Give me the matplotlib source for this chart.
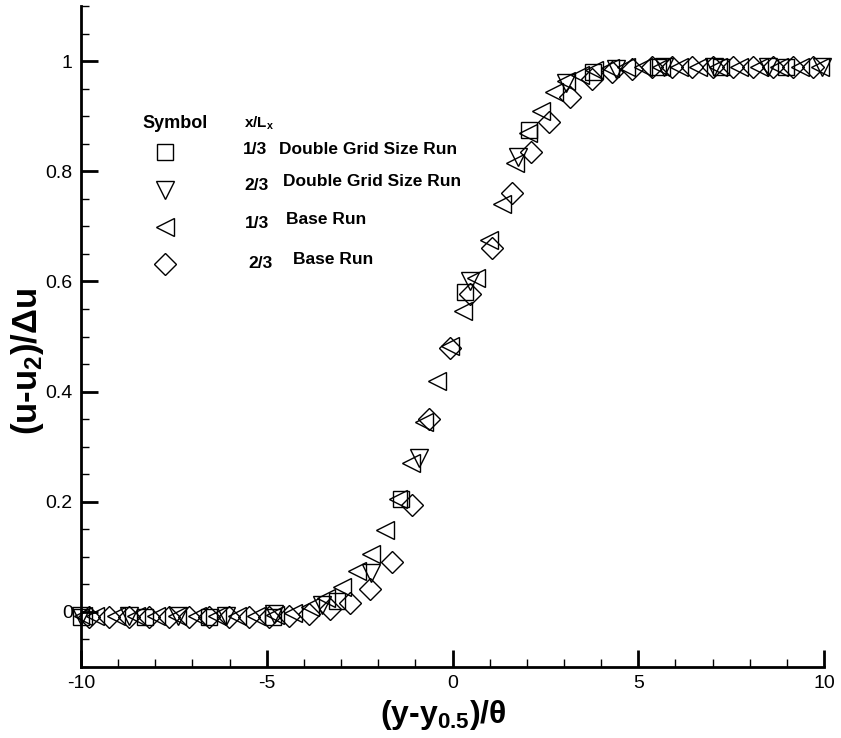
import matplotlib
matplotlib.use("Agg")
import matplotlib.pyplot as plt
from matplotlib.ticker import MultipleLocator

plt.rcParams['font.family'] = ['Liberation Sans', 'DejaVu Sans']
plt.rcParams['mathtext.fontset'] = 'custom'
plt.rcParams['mathtext.rm'] = 'Liberation Sans'
plt.rcParams['mathtext.bf'] = 'Liberation Sans:bold'
plt.rcParams['mathtext.it'] = 'Liberation Sans:italic'
plt.rcParams['axes.unicode_minus'] = False

# 1/3 Double Grid Size Run (squares)
sq_x = [-10.0, -8.28, -6.55, -4.83, -3.1, -1.38, 0.34, 2.07, 3.79, 5.52, 7.24, 8.97]
sq_y = [-0.01, -0.01, -0.01, -0.01, 0.02, 0.205, 0.58, 0.875, 0.98, 0.99, 0.99, 0.99]

# 2/3 Double Grid Size Run (down triangles)
dt_x = [-10.0, -8.7, -7.4, -6.1, -4.8, -3.5, -2.2, -0.89, 0.46, 1.75, 3.06, 4.4, 5.7, 7.05, 8.5, 9.95]
dt_y = [-0.008, -0.008, -0.008, -0.008, -0.004, 0.012, 0.07, 0.28, 0.6, 0.826, 0.96, 0.985, 0.99, 0.99, 0.99, 0.99]

# 1/3 Base Run (left triangles)
lt_x = [-9.95, -9.62, -9.07, -8.52, -7.97, -7.42, -6.87, -6.33, -5.8, -5.28, -4.78, -4.3,
        -3.84, -3.4, -2.98, -2.58, -2.2, -1.83, -1.48, -1.13, -0.78, -0.43, -0.08, 0.27,
        0.62, 0.97, 1.32, 1.67, 2.02, 2.37, 2.72, 3.06, 3.43, 3.82, 4.23, 4.67, 5.13, 5.6,
        6.1, 6.62, 7.15, 7.7, 8.25, 8.8, 9.35, 9.9]
lt_y = [-0.008, -0.008, -0.008, -0.008, -0.008, -0.008, -0.008, -0.008, -0.008, -0.008, -0.006, -0.002,
        0.009, 0.025, 0.045, 0.075, 0.105, 0.148, 0.205, 0.27, 0.345, 0.42, 0.483, 0.547,
        0.606, 0.675, 0.74, 0.815, 0.87, 0.91, 0.943, 0.963, 0.975, 0.983, 0.988, 0.99, 0.99, 0.99,
        0.99, 0.99, 0.99, 0.99, 0.99, 0.99, 0.99, 0.99]

# 2/3 Base Run (diamonds)
dm_x = [-9.79, -9.25, -8.71, -8.17, -7.63, -7.09, -6.55, -6.01, -5.47, -4.93, -4.39, -3.85,
        -3.31, -2.77, -2.23, -1.64, -1.1, -0.62, -0.08, 0.46, 1.05, 1.59, 2.12, 2.6,
        3.15, 3.76, 4.3, 4.84, 5.38, 5.92, 6.46, 7.0, 7.54, 8.08, 8.62, 9.16, 9.7]
dm_y = [-0.01, -0.01, -0.01, -0.01, -0.01, -0.01, -0.01, -0.01, -0.01, -0.01, -0.007, -0.003,
        0.005, 0.016, 0.042, 0.09, 0.195, 0.35, 0.48, 0.577, 0.66, 0.76, 0.835, 0.89,
        0.935, 0.967, 0.98, 0.985, 0.99, 0.99, 0.99, 0.99, 0.99, 0.99, 0.99, 0.99, 0.99]

legend_sym = ['s', 'v', '<', 'D']
legend_frac = ['1/3', '2/3', '1/3', '2/3']
legend_run = ['Double Grid Size Run', 'Double Grid Size Run', 'Base Run', 'Base Run']

W, H = 841, 738
fig = plt.figure(figsize=(W / 100, H / 100), dpi=100)
ax = fig.add_axes([81/W, 1 - 667/H, (824 - 81)/W, (667 - 6)/H])

mk = dict(linestyle='none', markerfacecolor='none', markeredgecolor='black', markeredgewidth=1.0)
ms = {'s': 11.5, 'v': 13, '<': 13, 'D': 11.7}
ax.plot(sq_x, sq_y, marker='s', markersize=ms['s'], **mk, clip_on=False)
ax.plot(dt_x, dt_y, marker='v', markersize=ms['v'], **mk, clip_on=False)
ax.plot(lt_x, lt_y, marker='<', markersize=ms['<'], **mk, clip_on=False)
ax.plot(dm_x, dm_y, marker='D', markersize=ms['D'], **mk, clip_on=False)

ax.set_xlim(-10, 10)
ax.set_ylim(-0.1, 1.1)
for s in ['top', 'right']:
    ax.spines[s].set_visible(False)
for s in ['left', 'bottom']:
    ax.spines[s].set_linewidth(2.0)
ax.xaxis.set_major_locator(MultipleLocator(5))
ax.xaxis.set_minor_locator(MultipleLocator(1))
ax.yaxis.set_minor_locator(MultipleLocator(0.05))
ax.set_yticks([0, 0.2, 0.4, 0.6, 0.8, 1.0])
ax.set_yticklabels(['0', '0.2', '0.4', '0.6', '0.8', '1'])
ax.tick_params(which='major', direction='in', length=12, width=2, labelsize=14, pad=6)
ax.tick_params(which='minor', direction='in', length=6, width=1)
ax.tick_params(axis='x', pad=6)

ax.set_xlabel('(y-y$_{\\mathbf{0.5}}$)/θ', fontsize=23, fontweight='bold')
ax.xaxis.set_label_coords((443 - 81) / 743, -(698 - 667) / 661)
ax.set_ylabel('(u-u$_{\\mathbf{2}}$)/Δu', fontsize=25, fontweight='bold')
ax.yaxis.set_label_coords(-(81 - 46) / 743, (667 - 361) / 661)

# legend
fig.text(175/W, 1 - 123/H, 'Symbol', fontsize=13, fontweight='bold', ha='center', va='center')
fig.text(244/W, 1 - 123/H, 'x/L$_{\\mathbf{x}}$', fontsize=11, fontweight='bold', ha='left', va='center')
mark_y = [152, 190, 227, 264]
frac_x = [243, 244, 245, 248]
frac_y = [149, 186, 224, 264]
run_x = [279, 283, 286, 293]
run_y = [149, 181, 220, 260]
for i in range(4):
    ax.plot([165/W], [1 - mark_y[i]/H], marker=legend_sym[i], markersize=ms[legend_sym[i]],
            transform=fig.transFigure, **mk, clip_on=False)
    fig.text(frac_x[i]/W, 1 - frac_y[i]/H, legend_frac[i], fontsize=12.5, fontweight='bold', ha='left', va='center')
    fig.text(run_x[i]/W, 1 - run_y[i]/H, legend_run[i], fontsize=12.5, fontweight='bold', ha='left', va='center')

fig.savefig('out.png', dpi=100)
